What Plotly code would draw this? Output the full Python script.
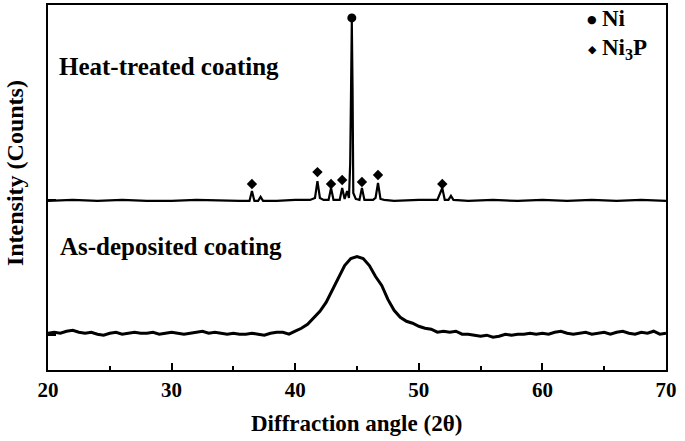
import plotly.graph_objects as go

# As-deposited coating (2theta, intensity in arbitrary units)
asdep_angle = [20 + 0.5 * i for i in range(101)]
asdep_int = [29, 30, 29, 31, 32, 30, 29, 30, 28, 27,
             29, 30, 28, 29, 30, 29, 29, 30, 28, 29,
             30, 29, 28, 29, 30, 31, 29, 30, 29, 28,
             29, 28, 28, 29, 28, 27, 29, 30, 30, 28,
             31, 34, 38, 44, 51, 60, 72, 85, 97, 104,
             106, 104, 97, 86, 77, 63, 52, 45, 41, 39,
             36, 34, 33, 30, 31, 30, 31, 28, 28, 27,
             26, 27, 25, 26, 28, 27, 28, 28, 29, 28,
             29, 28, 30, 31, 29, 28, 29, 30, 28, 29,
             30, 28, 30, 31, 29, 28, 30, 29, 31, 28,
             29]

# Heat-treated coating
heat_angle = [20, 22, 24, 26, 28, 30, 32, 34, 35.5, 36.3, 36.5, 36.7, 37.0, 37.2, 37.4,
              38.5, 40, 41.2, 41.6, 41.8, 42.0, 42.3, 42.7, 42.9, 43.1, 43.6, 43.8, 44.0,
              44.2, 44.35, 44.45, 44.52, 44.58, 44.64, 44.7, 44.9, 45.2, 45.4, 45.6, 46.3,
              46.5, 46.7, 46.9, 47.2, 48, 50, 51.5, 51.9, 52.1, 52.4, 52.6, 52.8, 54, 56,
              58, 60, 62, 64, 66, 68, 70]
heat_int = [162, 163, 162, 163, 162, 162, 163, 162, 162, 162, 172, 162, 162, 166, 162,
            162, 163, 163, 165, 182, 165, 163, 163, 175, 163, 163, 175, 164,
            172, 165, 200, 275, 342, 275, 170, 164, 163, 175, 163, 163,
            165, 180, 164, 163, 162, 163, 163, 175, 163, 163, 167, 163, 162, 163,
            162, 163, 162, 163, 162, 163, 162]

# Phase markers
ni_angle = [44.58]
ni_mark = [346]
ni3p_angle = [36.5, 41.8, 42.9, 43.8, 45.4, 46.7, 51.9]
ni3p_mark = [179, 191, 179, 183, 181, 188, 179]

FONT = "Liberation Serif"

fig = go.Figure()
fig.add_trace(go.Scatter(x=asdep_angle, y=asdep_int, mode="lines",
                         line=dict(color="black", width=3), showlegend=False))
fig.add_trace(go.Scatter(x=heat_angle, y=heat_int, mode="lines",
                         line=dict(color="black", width=2.2), showlegend=False))
fig.add_trace(go.Scatter(x=ni_angle, y=ni_mark, mode="markers",
                         marker=dict(symbol="circle", size=9, color="black"), showlegend=False))
fig.add_trace(go.Scatter(x=ni3p_angle, y=ni3p_mark, mode="markers",
                         marker=dict(symbol="diamond", size=8, color="black"), showlegend=False))

def px_x(px):
    return (px - 48) / 618

def px_y(py):
    return (370 - py) / 367

ann = [
    dict(text="<b>Heat-treated coating</b>", x=px_x(57), y=px_y(65), xanchor="left", yanchor="middle",
         font=dict(size=25)),
    dict(text="<b>As-deposited coating</b>", x=px_x(58), y=px_y(246), xanchor="left", yanchor="middle",
         font=dict(size=25)),
    dict(text="●", x=px_x(592), y=px_y(18), xanchor="center", yanchor="middle",
         font=dict(size=11, family="DejaVu Sans")),
    dict(text="◆", x=px_x(592), y=px_y(48), xanchor="center", yanchor="middle",
         font=dict(size=11, family="DejaVu Sans")),
    dict(text="<b>Ni</b>", x=px_x(600), y=px_y(17), xanchor="left", yanchor="middle",
         font=dict(size=23)),
    dict(text="<b>Ni<sub>3</sub>P</b>", x=px_x(600), y=px_y(47), xanchor="left", yanchor="middle",
         font=dict(size=23)),
    dict(text="<b>Intensity (Counts)</b>", x=px_x(15), y=px_y(172), textangle=-90,
         xanchor="center", yanchor="middle", font=dict(size=24)),
    dict(text="<b>Diffraction angle (2θ)</b>", x=px_x(356), y=px_y(424),
         xanchor="center", yanchor="middle", font=dict(size=23)),
]
for a in ann:
    a.update(xref="paper", yref="paper", showarrow=False)
    a["font"].setdefault("family", FONT)
    a["font"]["color"] = "black"

fig.update_layout(
    width=685, height=441,
    margin=dict(l=48, r=19, t=3, b=71),
    paper_bgcolor="white", plot_bgcolor="white",
    font=dict(family=FONT, color="black"),
    annotations=ann,
    showlegend=False,
    xaxis=dict(range=[20, 70], tickvals=[20, 30, 40, 50, 60, 70],
               ticks="inside", ticklen=7, tickwidth=2, tickcolor="black",
               minor=dict(ticks="inside", ticklen=4, tickwidth=2, tickcolor="black", dtick=5, tick0=20),
               showline=True, linecolor="black", linewidth=2, mirror=True,
               showgrid=False, zeroline=False,
               tickfont=dict(size=21, family=FONT, weight="bold")),
    yaxis=dict(range=[-8, 359], tickvals=[27, 163], ticks="inside", ticklen=8, tickwidth=2,
               tickcolor="black", showticklabels=False,
               showline=True, linecolor="black", linewidth=2, mirror=True,
               showgrid=False, zeroline=False),
)

fig.write_html("out.html", config={"displayModeBar": False},
               post_script="document.body.style.margin='0px';")
